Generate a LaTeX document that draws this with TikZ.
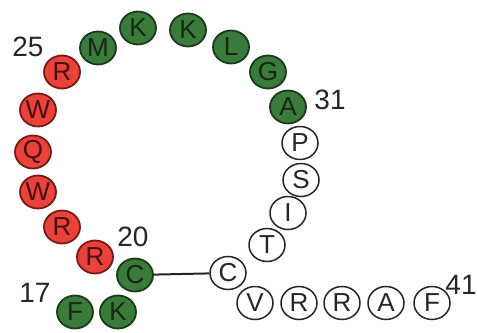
\documentclass[tikz,border=0pt]{standalone}
\usepackage{fontspec}
\setmainfont{Liberation Sans}
\usetikzlibrary{shapes.geometric}
\definecolor{gfill}{HTML}{3A7A3A}
\definecolor{gline}{HTML}{1C3A1C}
\definecolor{gtext}{HTML}{142814}
\definecolor{rfill}{HTML}{E8423A}
\definecolor{rline}{HTML}{7A1A16}
\definecolor{rtext}{HTML}{4A0E0C}
\begin{document}
\begin{tikzpicture}[x=1pt,y=-1pt,
  res/.style={ellipse, minimum width=36pt, minimum height=33pt, inner sep=0pt, line width=1.8pt, font=\fontsize{26}{26}\selectfont},
  gr/.style={res, draw=gline, fill=gfill, text=gtext},
  rd/.style={res, draw=rline, fill=rfill, text=rtext},
  wt/.style={res, draw=black!85, fill=white, line width=1.5pt, text=black!85},
  num/.style={font=\fontsize{28}{28}\selectfont, text=black!85, inner sep=0pt}]
\useasboundingbox (0,0) rectangle (478,332);
\node[gr] (F17) at (75,312) {F};
\node[gr] (K18) at (118,312) {K};
\node[gr] (C19) at (135,275) {C};
\node[rd] (R20) at (95,257) {R};
\node[rd] (R21) at (62,227) {R};
\node[rd] (W22) at (38,192) {W};
\node[rd] (Q23) at (33,152) {Q};
\node[rd] (W24) at (38,110) {W};
\node[rd] (R25) at (62,72) {R};
\node[gr] (M26) at (98,48) {M};
\node[gr] (K27) at (138,28) {K};
\node[gr] (K28) at (188,30) {K};
\node[gr] (L29) at (231,47) {L};
\node[gr] (G30) at (268,72) {G};
\node[gr] (A31) at (288,107) {A};
\node[wt] (P32) at (300,143) {P};
\node[wt] (S33) at (301,180) {S};
\node[wt] (I34) at (288,213) {I};
\node[wt] (T35) at (267,245) {T};
\node[wt] (C36) at (228,273) {C};
\node[wt] (V37) at (255,303) {V};
\node[wt] (R38) at (299,303) {R};
\node[wt] (R39) at (342,303) {R};
\node[wt] (A40) at (386,303) {A};
\node[wt] (F41) at (432,303) {F};
\draw[line width=2pt, black!85] (C19) -- (C36);
\node[num] (n17) at (35,293) {17};
\node[num] (n20) at (133,237) {20};
\node[num] (n25) at (28,47) {25};
\node[num] (n31) at (330,100) {31};
\node[num] (n41) at (461,285) {41};
\end{tikzpicture}
\end{document}
